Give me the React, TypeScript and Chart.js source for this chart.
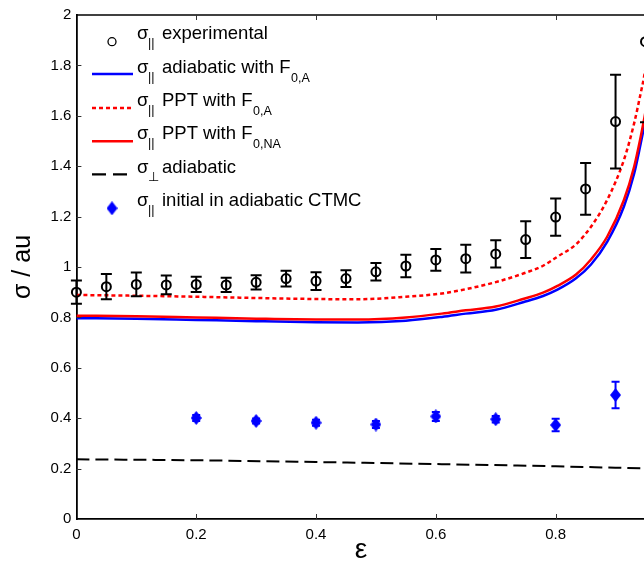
import React, { useEffect, useRef } from 'react';
import { Chart, registerables } from 'chart.js';

Chart.register(...registerables);

const FONT = '"Liberation Sans", Arial, Helvetica, sans-serif';

// Experimental sigma_|| (open circles with error bars)
const expX = [0, 0.05, 0.1, 0.15, 0.2, 0.25, 0.3, 0.35, 0.4, 0.45, 0.5, 0.55, 0.6, 0.65, 0.7, 0.75, 0.8, 0.85, 0.9, 0.95];
const expY = [0.9, 0.922, 0.931, 0.929, 0.931, 0.929, 0.939, 0.954, 0.944, 0.954, 0.981, 1.004, 1.028, 1.033, 1.052, 1.109, 1.198, 1.31, 1.577, 1.894];
const expErr = [0.046, 0.05, 0.047, 0.037, 0.03, 0.028, 0.028, 0.031, 0.035, 0.033, 0.035, 0.045, 0.043, 0.055, 0.054, 0.073, 0.074, 0.103, 0.186, 0.32];

// sigma_|| initial in adiabatic CTMC (blue diamonds)
const ctmcX = [0.2, 0.3, 0.4, 0.5, 0.6, 0.7, 0.8, 0.9];
const ctmcY = [0.401, 0.389, 0.382, 0.375, 0.407, 0.396, 0.373, 0.492];
const ctmcErr = [0.012, 0.01, 0.012, 0.014, 0.018, 0.013, 0.025, 0.053];

// Theory curves
const curveX = [0, 0.1, 0.2, 0.3, 0.4, 0.47, 0.55, 0.61, 0.65, 0.7, 0.747, 0.779, 0.803, 0.834, 0.859, 0.886, 0.914, 0.931, 0.942, 0.948, 0.96];
const adiabaticA = [0.797, 0.795, 0.79, 0.785, 0.781, 0.78, 0.787, 0.802, 0.815, 0.83, 0.861, 0.885, 0.91, 0.955, 1.01, 1.1, 1.24, 1.37, 1.49, 1.56, 1.72];
const pptA = [0.889, 0.886, 0.882, 0.877, 0.873, 0.872, 0.882, 0.895, 0.912, 0.94, 0.975, 1.005, 1.041, 1.09, 1.16, 1.266, 1.425, 1.57, 1.69, 1.76, 1.95];
const pptNA = [0.807, 0.805, 0.8, 0.795, 0.792, 0.792, 0.8, 0.815, 0.828, 0.843, 0.874, 0.898, 0.925, 0.97, 1.03, 1.12, 1.266, 1.398, 1.517, 1.59, 1.75];

// sigma_perp adiabatic
const perpX = [0, 0.2, 0.4, 0.6, 0.8, 0.96];
const perpY = [0.237, 0.233, 0.226, 0.218, 0.209, 0.2];

const xMin = 0;
const xMax = 0.95;
const yMin = 0;
const yMax = 2;
const xStep = 0.2;
const yStep = 0.2;

const BLUE = '#0000ff';
const RED = '#ff0000';

const pts = (xs: number[], ys: number[]) => xs.map((x, i) => ({ x, y: ys[i] }));
const fmt = (v: number) => String(Math.round(v * 10) / 10);

function makeDiamond(w: number, h: number, color: string) {
  const c = document.createElement('canvas');
  c.width = w;
  c.height = h;
  const ctx = c.getContext('2d')!;
  ctx.fillStyle = color;
  ctx.beginPath();
  ctx.moveTo(w / 2, 0);
  ctx.lineTo(w, h / 2);
  ctx.lineTo(w / 2, h);
  ctx.lineTo(0, h / 2);
  ctx.closePath();
  ctx.fill();
  return c;
}

const errorBarPlugin = {
  id: 'errorBars',
  afterDatasetsDraw(chart: any) {
    const { ctx, scales } = chart;
    const xs = scales.x;
    const ys = scales.y;
    const draw = (X: number[], Y: number[], E: number[], color: string, cap: number) => {
      ctx.save();
      ctx.strokeStyle = color;
      ctx.lineWidth = 2;
      X.forEach((xv, i) => {
        const px = xs.getPixelForValue(xv);
        const top = ys.getPixelForValue(Y[i] + E[i]);
        const bot = ys.getPixelForValue(Y[i] - E[i]);
        ctx.beginPath();
        ctx.moveTo(px, top);
        ctx.lineTo(px, bot);
        ctx.moveTo(px - cap, top);
        ctx.lineTo(px + cap, top);
        ctx.moveTo(px - cap, bot);
        ctx.lineTo(px + cap, bot);
        ctx.stroke();
      });
      ctx.restore();
    };
    draw(ctmcX, ctmcY, ctmcErr, BLUE, 4);
    draw(expX, expY, expErr, '#000', 5.5);
  },
};

const framePlugin = {
  id: 'frame',
  afterDraw(chart: any) {
    const { ctx, chartArea, scales } = chart;
    const { left, right, top, bottom } = chartArea;
    ctx.save();
    ctx.strokeStyle = '#000';
    ctx.lineWidth = 1.3;
    ctx.beginPath();
    ctx.moveTo(left, top);
    ctx.lineTo(right + 10, top);
    ctx.stroke();
    ctx.strokeStyle = '#333';
    ctx.lineWidth = 1;
    const tl = 5;
    scales.x.ticks.forEach((t: any) => {
      const px = Math.round(scales.x.getPixelForValue(t.value)) + 0.5;
      if (t.value === 0) return;
      ctx.beginPath();
      ctx.moveTo(px, bottom);
      ctx.lineTo(px, bottom - tl);
      ctx.moveTo(px, top);
      ctx.lineTo(px, top + tl);
      ctx.stroke();
    });
    scales.y.ticks.forEach((t: any) => {
      const py = Math.round(scales.y.getPixelForValue(t.value)) + 0.5;
      if (t.value === 0 || t.value === 2) return;
      ctx.beginPath();
      ctx.moveTo(left, py);
      ctx.lineTo(left + tl, py);
      ctx.stroke();
    });
    ctx.restore();
  },
};

function makeLegendPlugin(diamond: HTMLCanvasElement) {
  return {
    id: 'customLegend',
    afterDraw(chart: any) {
      const ctx = chart.ctx as CanvasRenderingContext2D;
      ctx.save();
      const rows = [
        { base: 39.3, sub: '||', text: 'experimental', fsub: '' },
        { base: 72.7, sub: '||', text: 'adiabatic with F', fsub: '0,A' },
        { base: 106, sub: '||', text: 'PPT with F', fsub: '0,A' },
        { base: 139.3, sub: '||', text: 'PPT with F', fsub: '0,NA' },
        { base: 172.7, sub: '\u22A5', text: 'adiabatic', fsub: '' },
        { base: 206, sub: '||', text: 'initial in adiabatic CTMC', fsub: '' },
      ];
      const x0 = 92;
      const x1 = 133;
      ctx.strokeStyle = '#000';
      ctx.lineWidth = 1.3;
      ctx.beginPath();
      ctx.arc(112, 41.7, 4, 0, Math.PI * 2);
      ctx.stroke();
      const line = (y: number, color: string, dash: number[], w: number) => {
        ctx.save();
        ctx.strokeStyle = color;
        ctx.lineWidth = w;
        ctx.setLineDash(dash);
        ctx.beginPath();
        ctx.moveTo(x0, y);
        ctx.lineTo(x1, y);
        ctx.stroke();
        ctx.restore();
      };
      line(74, BLUE, [], 2.5);
      line(108, RED, [4, 3], 2.5);
      line(141.3, RED, [], 2.5);
      line(174.3, '#000', [14, 7], 2.2);
      ctx.drawImage(diamond, 112 - diamond.width / 2, 208.3 - diamond.height / 2);

      ctx.fillStyle = '#000';
      ctx.textBaseline = 'alphabetic';
      ctx.textAlign = 'left';
      rows.forEach((r) => {
        ctx.font = `18.5px ${FONT}`;
        ctx.fillText('\u03C3', 137, r.base);
        ctx.font = `12.5px ${FONT}`;
        ctx.fillText(r.sub, 148, r.base + 8);
        ctx.font = `18.5px ${FONT}`;
        ctx.fillText(r.text, 162, r.base);
        if (r.fsub) {
          const w = ctx.measureText(r.text).width;
          ctx.font = `12.5px ${FONT}`;
          ctx.fillText(r.fsub, 162 + w + 0.5, r.base + 9);
        }
      });
      ctx.restore();
    },
  };
}

export default function App() {
  const ref = useRef<HTMLCanvasElement>(null);

  useEffect(() => {
    const canvas = ref.current;
    if (!canvas) return;
    const diamond = makeDiamond(11, 14, BLUE);

    const lineDs = (label: string, ys: number[], xs: number[], color: string, dash: number[], width: number) => ({
      label,
      data: pts(xs, ys),
      showLine: true,
      borderColor: color,
      backgroundColor: color,
      borderWidth: width,
      borderDash: dash,
      pointRadius: 0,
      cubicInterpolationMode: 'monotone' as const,
      fill: false,
    });

    const chart = new Chart(canvas, {
      type: 'scatter',
      data: {
        datasets: [
          {
            label: 'σ|| experimental',
            data: pts(expX, expY),
            showLine: false,
            pointStyle: 'circle',
            pointRadius: 4.5,
            pointBorderWidth: 2,
            borderColor: '#000',
            pointBorderColor: '#000',
            pointBackgroundColor: 'rgba(0,0,0,0)',
            backgroundColor: 'rgba(0,0,0,0)',
            clip: false,
          } as any,
          {
            label: 'σ|| initial in adiabatic CTMC',
            data: pts(ctmcX, ctmcY),
            showLine: false,
            pointStyle: diamond,
            pointRadius: 6,
            clip: false,
          } as any,
          lineDs('σ|| PPT with F0,NA', pptNA, curveX, RED, [], 2.5),
          lineDs('σ|| adiabatic with F0,A', adiabaticA, curveX, BLUE, [], 2.5),
          lineDs('σ|| PPT with F0,A', pptA, curveX, RED, [4, 3], 2.5),
          lineDs('σ⊥ adiabatic', perpY, perpX, '#000', [13, 6], 2),
        ],
      },
      options: {
        responsive: false,
        animation: false,
        devicePixelRatio: 1,
        layout: { padding: { top: 15, right: 14.5, left: 0, bottom: 0 } },
        plugins: {
          legend: { display: false },
          tooltip: { enabled: false },
        },
        scales: {
          x: {
            type: 'linear',
            min: xMin,
            max: xMax,
            afterFit: (s: any) => {
              s.height = 53;
            },
            grid: { display: false, drawTicks: false },
            border: { display: true, color: '#000', width: 1.8 },
            ticks: {
              stepSize: xStep,
              includeBounds: false,
              color: '#000',
              padding: 7,
              font: { family: FONT, size: 15 },
              maxRotation: 0,
              callback: (v: any) => fmt(Number(v)),
            },
            title: {
              display: true,
              text: 'ε',
              color: '#000',
              font: { family: FONT, size: 28 },
              padding: { top: 0, bottom: 5 },
            },
          },
          y: {
            type: 'linear',
            min: yMin,
            max: yMax,
            afterFit: (s: any) => {
              s.width = 76.4;
            },
            grid: { display: false, drawTicks: false },
            border: { display: true, color: '#000', width: 1.8 },
            ticks: {
              stepSize: yStep,
              color: '#000',
              padding: 5,
              font: { family: FONT, size: 15 },
              callback: (v: any) => fmt(Number(v)),
            },
            title: {
              display: true,
              text: 'σ / au',
              color: '#000',
              font: { family: FONT, size: 25 },
              padding: { top: 8, bottom: 0 },
            },
          },
        },
      } as any,
      plugins: [errorBarPlugin, framePlugin, makeLegendPlugin(diamond)],
    });

    return () => chart.destroy();
  }, []);

  return (
    <div
      style={{
        position: 'fixed',
        left: 0,
        top: 0,
        width: 644,
        height: 572,
        overflow: 'hidden',
        background: '#fff',
      }}
    >
      <canvas ref={ref} width={660} height={572} style={{ display: 'block', width: 660, height: 572 }} />
    </div>
  );
}
